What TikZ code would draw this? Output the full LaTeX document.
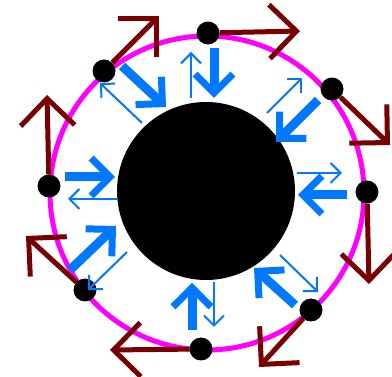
\documentclass[tikz,border=0pt]{standalone}
\usetikzlibrary{arrows.meta}
\definecolor{ringmag}{RGB}{255,0,255}
\definecolor{orbitred}{RGB}{120,0,0}
\definecolor{flowblue}{RGB}{0,120,255}
\begin{document}
\begin{tikzpicture}[x=1pt,y=-1pt,
  dot/.style={circle,fill=black,inner sep=0pt,minimum size=23pt},
  orbit/.style={draw=orbitred,line width=5pt,-{Straight Barb[length=27pt,width=54pt]}},
  inflow/.style={draw=flowblue,line width=9pt,-{Straight Barb[length=19pt,width=38pt,line width=7pt]}},
  outflow/.style={draw=flowblue,line width=2pt,-{Straight Barb[length=10pt,width=20pt]}}]
\path[use as bounding box] (0,0) rectangle (392,377);
% ring and hole
\node[circle,draw=ringmag,line width=5pt,minimum size=314pt,inner sep=0pt] (ring) at (207,193) {};
\node[circle,fill=black,minimum size=178pt,inner sep=0pt] (hole) at (206,191) {};
% dots on the ring
\node[dot] (d1) at (208,33) {};
\node[dot] (d2) at (332,89) {};
\node[dot] (d3) at (367,192) {};
\node[dot] (d4) at (311,310) {};
\node[dot] (d5) at (201,349) {};
\node[dot] (d6) at (85,290) {};
\node[dot] (d7) at (49,186) {};
\node[dot] (d8) at (104,71) {};
% red tangential arrows
\coordinate (r1) at (300,31);
\coordinate (r2) at (390,145);
\coordinate (r3) at (369,284);
\coordinate (r4) at (259,367);
\coordinate (r5) at (110,350);
\coordinate (r6) at (26,236);
\coordinate (r7) at (47,95);
\coordinate (r8) at (159,16);
\foreach \i in {1,...,8} {\draw[orbit] (d\i) -- (r\i);}
% blue arrows: thick inward, thin outward
\coordinate (ta1) at (214,48);  \coordinate (tb1) at (214,98);
\coordinate (sa1) at (191,98);  \coordinate (sb1) at (191,52);
\coordinate (ta2) at (122,66);  \coordinate (tb2) at (166,107);
\coordinate (sa2) at (142,123); \coordinate (sb2) at (100,83);
\coordinate (ta3) at (318,100); \coordinate (tb3) at (276,142);
\coordinate (sa3) at (267,113); \coordinate (sb3) at (302,78);
\coordinate (ta4) at (65,177);  \coordinate (tb4) at (115,177);
\coordinate (sa4) at (117,199); \coordinate (sb4) at (68,199);
\coordinate (ta5) at (347,195); \coordinate (tb5) at (298,195);
\coordinate (sa5) at (297,173); \coordinate (sb5) at (342,173);
\coordinate (ta6) at (70,270);  \coordinate (tb6) at (116,226);
\coordinate (sa6) at (127,252); \coordinate (sb6) at (88,290);
\coordinate (ta7) at (295,305); \coordinate (tb7) at (254,268);
\coordinate (sa7) at (280,255); \coordinate (sb7) at (318,292);
\coordinate (ta8) at (192,330); \coordinate (tb8) at (192,283);
\coordinate (sa8) at (214,282); \coordinate (sb8) at (214,327);
\foreach \i in {1,...,8} {
  \draw[inflow] (ta\i) -- (tb\i);
  \draw[outflow] (sa\i) -- (sb\i);
}
\end{tikzpicture}
\end{document}
